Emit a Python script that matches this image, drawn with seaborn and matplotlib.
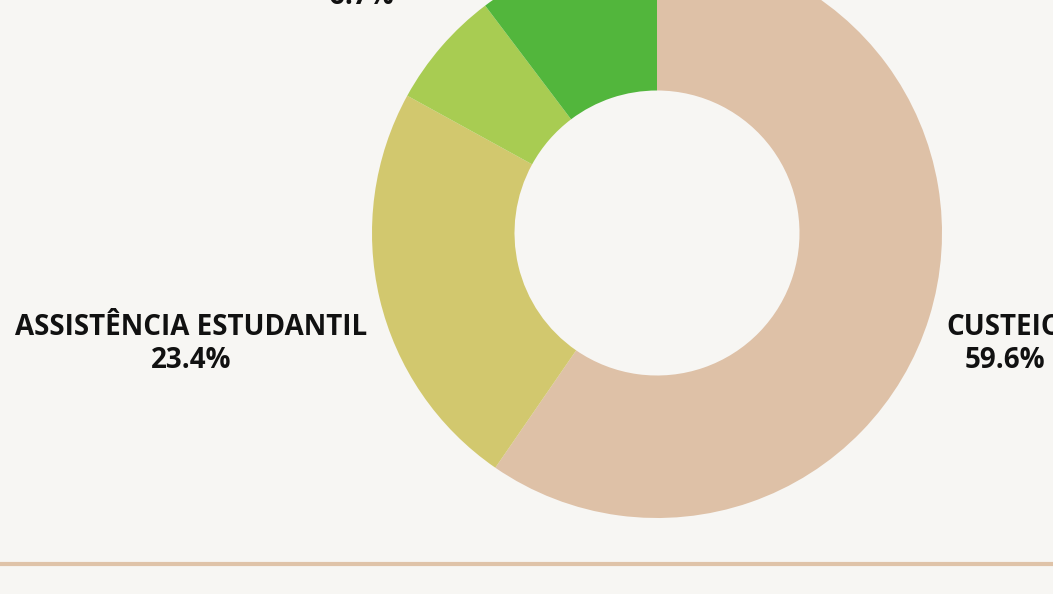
import matplotlib
matplotlib.use("Agg")
import matplotlib.pyplot as plt
import seaborn as sns
import numpy as np

# dados do gráfico
categorias = ["CUSTEIO", "ASSISTÊNCIA ESTUDANTIL", "OUTROS", "INVESTIMENTO"]
percentuais = [59.6, 23.4, 6.7, 10.3]
cores = ["#dec1a7", "#d2c86e", "#a8cc52", "#52b63c"]

fundo = "#f7f6f3"
sns.set_theme(style="white", rc={"figure.facecolor": fundo, "axes.facecolor": fundo})
plt.rcParams["font.family"] = ["Open Sans", "DejaVu Sans"]

W, H = 1053, 594
fig = plt.figure(figsize=(W / 100, H / 100), dpi=100)
ax = fig.add_axes([0, 0, 1, 1])

centro = (657, H - 233)
raio = 285
ax.pie(percentuais, colors=sns.color_palette(cores), startangle=90, counterclock=False,
       center=centro, radius=raio, wedgeprops=dict(width=raio * 0.5, linewidth=0),
       frame=True)
ax.set_xlim(0, W)
ax.set_ylim(0, H)
ax.set_aspect("equal")
ax.axis("off")

estilo = dict(fontsize=20, fontweight="bold", color="#111111", linespacing=1.22)
ax.text(946, H - 344, f"{categorias[0]}\n{percentuais[0]}%", ha="left", va="center",
        multialignment="center", **estilo)
ax.text(191, H - 344, f"{categorias[1]}\n{percentuais[1]}%", ha="center", va="center",
        multialignment="center", **estilo)
ax.text(361, H - 4, f"{percentuais[2]}%", ha="center", va="baseline", **estilo)

# linha inferior
ax.axhline(H - 563.5, color="#dfc3a8", linewidth=3)

fig.savefig("out.png", dpi=100, facecolor=fundo)
